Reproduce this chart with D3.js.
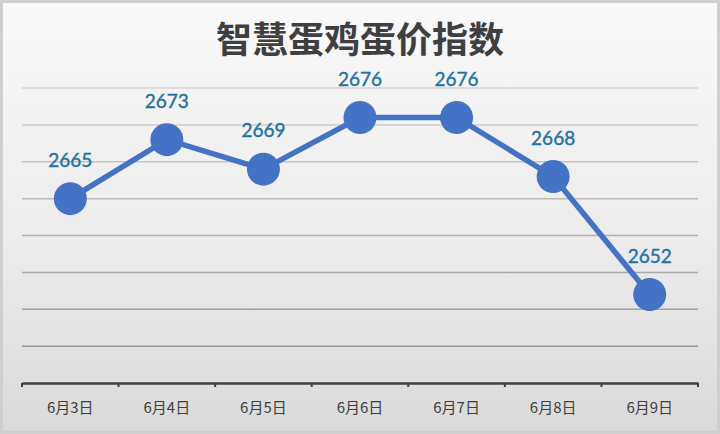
<!DOCTYPE html>
<html>
<head>
<meta charset="utf-8">
<script src="https://cdn.jsdelivr.net/npm/d3@7"></script>
<style>
  html, body { margin: 0; padding: 0; background: #e6e6e6; }
  #chart { width: 720px; height: 434px; }
</style>
</head>
<body>
<div id="chart"></div>
<script>
// data
var dates = ["6月3日", "6月4日", "6月5日", "6月6日", "6月7日", "6月8日", "6月9日"];
var prices = [2665, 2673, 2669, 2676, 2676, 2668, 2652];
var gridTicks = [2640, 2645, 2650, 2655, 2660, 2665, 2670, 2675, 2680];
var title = "智慧蛋鸡蛋价指数";

var W = 720, H = 434;
var margin = {top: 88, right: 22, bottom: 51, left: 22},
    width = W - margin.left - margin.right,
    height = H - margin.top - margin.bottom;

var root = d3.select("#chart")
  .append("svg")
    .attr("width", W)
    .attr("height", H);

// background gradient
var defs = root.append("defs");
var bg = defs.append("linearGradient")
  .attr("id", "bg")
  .attr("x1", 0).attr("y1", 0).attr("x2", 0).attr("y2", 1);
bg.append("stop").attr("offset", "0%").attr("stop-color", "#f9f9f9");
bg.append("stop").attr("offset", "55%").attr("stop-color", "#ececec");
bg.append("stop").attr("offset", "100%").attr("stop-color", "#dadada");

root.append("rect")
  .attr("width", W).attr("height", H)
  .attr("fill", "#cfcfcf");
root.append("rect")
  .attr("x", 3).attr("y", 3)
  .attr("width", W - 6).attr("height", H - 6)
  .attr("fill", "url(#bg)");

root.append("text")
  .attr("x", W / 2)
  .attr("y", 53)
  .attr("text-anchor", "middle")
  .attr("font-family", "Noto Sans CJK SC")
  .attr("font-weight", "bold")
  .attr("font-size", 36)
  .attr("fill", "#3f3f3f")
  .text(title);

var svg = root.append("g")
  .attr("transform", "translate(" + margin.left + "," + margin.top + ")");

var x = d3.scaleBand()
  .domain(dates)
  .range([0, width]);

var y = d3.scaleLinear()
  .domain([2640, 2680])
  .range([height, 0]);

// gridlines, darker toward the bottom like the photo
var gridColor = d3.scaleLinear()
  .domain([2640, 2680])
  .range(["#8e8e8e", "#d4d4d4"]);

svg.append("g")
  .selectAll("line")
  .data(gridTicks.slice(1))
  .enter()
  .append("line")
    .attr("x1", 0)
    .attr("x2", width)
    .attr("y1", function(d) { return y(d) })
    .attr("y2", function(d) { return y(d) })
    .attr("stroke", function(d) { return gridColor(d) })
    .attr("stroke-width", 1.5);

// x axis
var xAxis = svg.append("g")
  .attr("transform", "translate(0," + height + ")")
  .call(d3.axisBottom(x).tickSize(0).tickPadding(19));
xAxis.select(".domain")
  .attr("stroke", "#404040")
  .attr("stroke-width", 2.5);
xAxis.selectAll("text")
  .attr("font-family", "Noto Sans CJK SC")
  .attr("font-size", 15)
  .attr("fill", "#404040");

// category boundary ticks
svg.append("g")
  .selectAll("line")
  .data(dates)
  .enter()
  .append("line")
    .attr("x1", function(d) { return x(d) })
    .attr("x2", function(d) { return x(d) })
    .attr("y1", height)
    .attr("y2", height + 4)
    .attr("stroke", "#404040")
    .attr("stroke-width", 2);
svg.append("line")
  .attr("x1", width).attr("x2", width)
  .attr("y1", height).attr("y2", height + 4)
  .attr("stroke", "#404040")
  .attr("stroke-width", 2);

var cx = function(d, i) { return x(dates[i]) + x.bandwidth() / 2 };

svg.append("path")
  .datum(prices)
  .attr("fill", "none")
  .attr("stroke", "#4472c4")
  .attr("stroke-width", 5.5)
  .attr("d", d3.line()
    .x(cx)
    .y(function(d) { return y(d) })
  );

svg.selectAll("circle")
  .data(prices)
  .enter()
  .append("circle")
    .attr("cx", cx)
    .attr("cy", function(d) { return y(d) })
    .attr("r", 16.5)
    .attr("fill", "#4472c4");

svg.selectAll(".lbl")
  .data(prices)
  .enter()
  .append("text")
    .attr("class", "lbl")
    .attr("x", cx)
    .attr("y", function(d) { return y(d) - 32 })
    .attr("text-anchor", "middle")
    .attr("font-family", "Lato")
    .attr("font-size", 19)
    .attr("fill", "#2371a3")
    .attr("stroke", "#2371a3")
    .attr("stroke-width", 0.4)
    .text(function(d) { return d });
</script>
</body>
</html>
